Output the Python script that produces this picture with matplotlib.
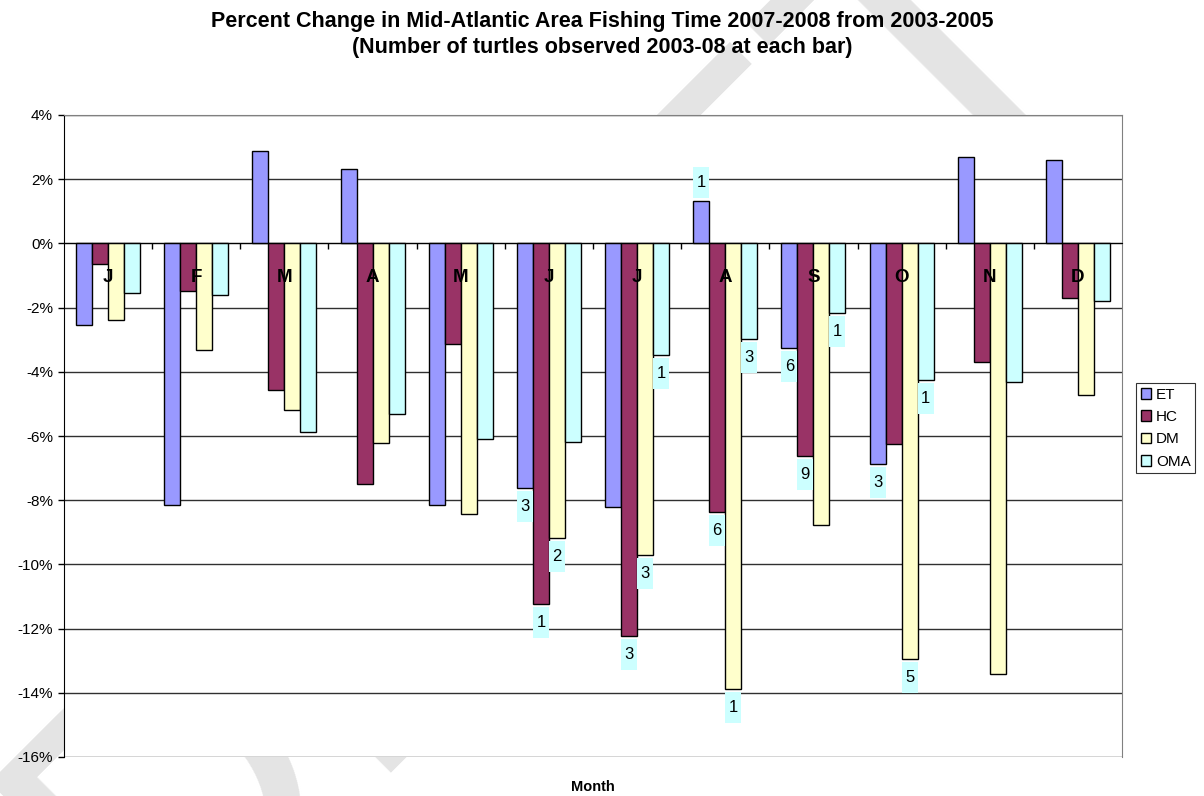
import numpy as np
import matplotlib
matplotlib.use('Agg')
import matplotlib.pyplot as plt
from matplotlib.patches import Patch, Rectangle

plt.rcParams['font.family'] = ['Liberation Sans', 'DejaVu Sans']
plt.rcParams['axes.unicode_minus'] = False

months = ['J', 'F', 'M', 'A', 'M', 'J', 'J', 'A', 'S', 'O', 'N', 'D']
series = ['ET', 'HC', 'DM', 'OMA']

# percent change in fishing time, 2007-08 vs 2003-05
et  = [-2.54, -8.16,  2.87,  2.32, -8.14, -7.62, -8.21,  1.33, -3.26, -6.87,  2.68,  2.60]
hc  = [-0.63, -1.49, -4.57, -7.51, -3.13, -11.23, -12.22, -8.37, -6.63, -6.26, -3.69, -1.70]
dm  = [-2.39, -3.32, -5.20, -6.21, -8.43, -9.19, -9.72, -13.87, -8.78, -12.96, -13.40, -4.72]
oma = [-1.55, -1.60, -5.87, -5.32, -6.08, -6.18, -3.47, -2.98, -2.16, -4.25, -4.32, -1.79]

# turtles observed 2003-08 (None = no label)
et_n  = [None, None, None, None, None, 3, None, 1, 6, 3, None, None]
hc_n  = [None, None, None, None, None, 1, 3, 6, 9, None, None, None]
dm_n  = [None, None, None, None, None, 2, 3, 1, None, 5, None, None]
oma_n = [None, None, None, None, None, None, 1, 3, 1, 1, None, None]

values = [et, hc, dm, oma]
counts = [et_n, hc_n, dm_n, oma_n]
colors = ['#9999FF', '#993366', '#FFFFCC', '#CCFFFF']

fig = plt.figure(figsize=(12.04, 7.96), dpi=100)
fig.patch.set_facecolor('white')

# faint watermark behind the chart
fig.text(0.46, 0.46, 'DRAFT', rotation=45, fontsize=290, color='#e4e4e4',
         ha='center', va='center', zorder=0)

ax_h_px = 642
ax = fig.add_axes([64/1204, 39/796, 1058/1204, ax_h_px/796])
ax.set_facecolor('white')
ax.set_zorder(1)

ymin, ymax = -16, 4
px_per_unit = ax_h_px / (ymax - ymin)
box_h = 31 / px_per_unit
gap = 3 / px_per_unit

x = np.arange(len(months))
w = 1 / 5.5
for i, (vals, col) in enumerate(zip(values, colors)):
    xs = x + (i - 1.5) * w
    ax.bar(xs, vals, width=w, color=col, edgecolor='black', linewidth=1.0,
           zorder=2, label=series[i])
    for xi, v, n in zip(xs, vals, counts[i]):
        if n is None:
            continue
        y0 = v + gap if v > 0 else v - gap - box_h
        ax.add_patch(Rectangle((xi - w / 2, y0), w, box_h, facecolor='#CCFFFF',
                               edgecolor='none', zorder=4))
        ax.text(xi, y0 + box_h / 2, str(n), ha='center', va='center',
                fontsize=12, zorder=5)

ax.set_xlim(-0.5, 11.5)
ax.set_ylim(ymin, ymax)
yt = np.arange(ymin, ymax + 1, 2)
ax.set_yticks(yt)
ax.set_yticklabels([f'{v:d}%' for v in yt], fontsize=11)
for v in yt:
    ax.axhline(v, color='#303030', linewidth=1.0, zorder=0.5)
ax.tick_params(axis='y', direction='out', length=4, width=1, pad=4)

# category axis sits on the zero line
ax.spines['bottom'].set_position(('data', 0))
ax.spines['bottom'].set_zorder(3)
ax.set_xticks(np.arange(0.5, 11, 1))
ax.set_xticklabels([])
ax.tick_params(axis='x', direction='out', length=4, width=1)
for s in ['top', 'right']:
    ax.spines[s].set_color('#808080')
ax.spines['left'].set_color('black')

for xi, m in zip(x, months):
    ax.text(xi, -1.07, m, ha='center', va='center', fontsize=13.5,
            fontweight='bold', zorder=4)

fig.text(0.5, 1 - 22/796, 'Percent Change in Mid-Atlantic Area Fishing Time 2007-2008 from 2003-2005',
         ha='center', va='center', fontsize=15.5, fontweight='bold')
fig.text(0.5, 1 - 47/796, '(Number of turtles observed 2003-08 at each bar)',
         ha='center', va='center', fontsize=15.5, fontweight='bold')
fig.text(593/1204, 1 - 787/796, 'Month', ha='center', va='center',
         fontsize=10.5, fontweight='bold')

handles = [Patch(facecolor=c, edgecolor='black', linewidth=1) for c in colors]
leg = fig.legend(handles, series, loc='upper left',
                 bbox_to_anchor=(1136/1204, 1 - 383/796), fontsize=11,
                 frameon=True, fancybox=False, edgecolor='black',
                 handlelength=0.7, handleheight=0.7, handletextpad=0.3,
                 labelspacing=0.55, borderpad=0.3, borderaxespad=0)
leg.get_frame().set_linewidth(0.8)

fig.savefig('out.png', dpi=100, facecolor='white')
